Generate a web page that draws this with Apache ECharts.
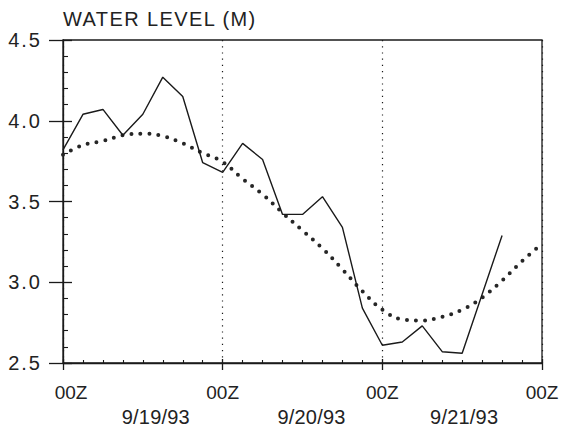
<!DOCTYPE html>
<html><head><meta charset="utf-8">
<script src="https://cdn.jsdelivr.net/npm/echarts@6/dist/echarts.min.js"></script>
<style>html,body{margin:0;padding:0;background:#fff}#chart{width:563px;height:435px}</style>
</head><body><div id="chart"></div>
<script>
const titleText = 'WATER LEVEL (M)';
const observedHours = [0,3,6,9,12,15,18,21,24,27,30,33,36,39,42,45,48,51,54,57,60,66];
const observedLevel = [3.82,4.04,4.07,3.91,4.04,4.27,4.15,3.74,3.68,3.86,3.76,3.42,3.42,3.53,3.34,2.84,2.61,2.63,2.73,2.57,2.56,3.29];
const predictedHours = [0,3,6,9,12,15,18,21,24,27,30,33,36,39,42,45,48,51,54,57,60,63,66,69,72];
const predictedLevel = [3.79,3.85,3.875,3.91,3.92,3.905,3.86,3.80,3.745,3.64,3.545,3.43,3.32,3.21,3.08,2.945,2.83,2.77,2.763,2.786,2.83,2.905,3.01,3.13,3.24];
const yMin = 2.5, yMax = 4.5, yStep = 0.5;
const xMin = 0, xMax = 72, xStep = 24;
const xTickLabel = '00Z';
const dateLabels = ['9/19/93','9/20/93','9/21/93'];

const ink = '#1a1a1a';
const txt = '#222';
const font = 'Liberation Sans, Arial, Helvetica, sans-serif';
const chart = echarts.init(document.getElementById('chart'), null, {renderer: 'svg'});

const baseX = {type: 'value', min: xMin, max: xMax, interval: xStep, position: 'bottom', gridIndex: 0};
const baseY = {type: 'value', min: yMin, max: yMax, interval: yStep, position: 'left', gridIndex: 0};

chart.setOption({
  animation: false,
  backgroundColor: '#fff',
  title: {text: titleText, left: 63, top: 9, padding: 0,
    textStyle: {fontFamily: font, fontSize: 20, fontWeight: 'normal', color: txt}},
  grid: {left: 63, right: 21, top: 40, bottom: 72, show: true, borderColor: ink, borderWidth: 1.3, backgroundColor: 'transparent'},
  xAxis: [
    Object.assign({}, baseX, {
      axisLine: {show: true, lineStyle: {color: ink, width: 1.3}},
      axisTick: {show: true, inside: false, length: 7, lineStyle: {color: ink, width: 1.3}},
      axisLabel: {margin: 20, fontFamily: font, fontSize: 19, color: txt,
        formatter: v => v === xMin ? '{m|' + xTickLabel + '}' : xTickLabel,
        rich: {m: {fontFamily: font, fontSize: 19, color: txt, padding: [0,0,0,16]}}},
      splitLine: {show: true, lineStyle: {color: ink, width: 1.2, type: [1.2, 5]}}
    }),
    Object.assign({}, baseX, {
      axisLine: {show: false},
      axisTick: {show: true, inside: true, length: 4, lineStyle: {color: ink, width: 1.3}},
      minorTick: {show: true, splitNumber: 8, length: 3, lineStyle: {color: ink, width: 1.1}},
      axisLabel: {show: false},
      splitLine: {show: false}
    }),
    Object.assign({}, baseX, {
      interval: 12,
      axisLine: {show: false}, axisTick: {show: false}, splitLine: {show: false},
      axisLabel: {margin: 44, fontFamily: font, fontSize: 20, color: txt,
        formatter: v => {
          if (v % 24 !== 12) return '';
          const i = (v - 12) / 24;
          return '{d' + i + '|' + dateLabels[i] + '}';
        },
        rich: {
          d0: {fontFamily: font, fontSize: 20, color: txt, padding: [0,0,0,26]},
          d1: {fontFamily: font, fontSize: 20, color: txt, padding: [0,0,0,18]},
          d2: {fontFamily: font, fontSize: 20, color: txt, padding: [0,0,0,4]}
        }}
    })
  ],
  yAxis: [
    Object.assign({}, baseY, {
      axisLine: {show: true, lineStyle: {color: ink, width: 1.3}},
      axisTick: {show: true, inside: false, length: 14, lineStyle: {color: ink, width: 1.3}},
      axisLabel: {margin: 21, fontFamily: font, fontSize: 20, color: txt, padding: [4,0,0,0],
        formatter: v => v.toFixed(1)},
      splitLine: {show: false}
    }),
    Object.assign({}, baseY, {
      axisLine: {show: false},
      axisTick: {show: true, inside: true, length: 9, lineStyle: {color: ink, width: 1.3}},
      minorTick: {show: true, splitNumber: 5, length: 5, lineStyle: {color: ink, width: 1.1}},
      axisLabel: {show: false},
      splitLine: {show: false}
    })
  ],
  series: [
    {
      type: 'line', xAxisIndex: 0, yAxisIndex: 0,
      data: predictedHours.map((h, i) => [h, predictedLevel[i]]),
      smooth: 0.4, showSymbol: false, symbol: 'none',
      lineStyle: {color: '#262626', width: 4, type: [0, 9], cap: 'round'},
      z: 3
    },
    {
      type: 'line', xAxisIndex: 0, yAxisIndex: 0,
      data: observedHours.map((h, i) => [h, observedLevel[i]]),
      showSymbol: false, symbol: 'none',
      lineStyle: {color: ink, width: 1.4},
      z: 4
    }
  ]
});

function spaceLetters() {
  document.querySelectorAll('#chart text').forEach(t => {
    const s = t.textContent;
    let ls = 0;
    if (s === titleText) ls = 1.4;
    else if (/^\d\.\d$/.test(s)) ls = 2;
    else if (s.indexOf('/') >= 0) ls = 0.2;
    t.style.letterSpacing = ls + 'px';
  });
}
chart.on('finished', spaceLetters);
spaceLetters();
</script>
</body></html>
